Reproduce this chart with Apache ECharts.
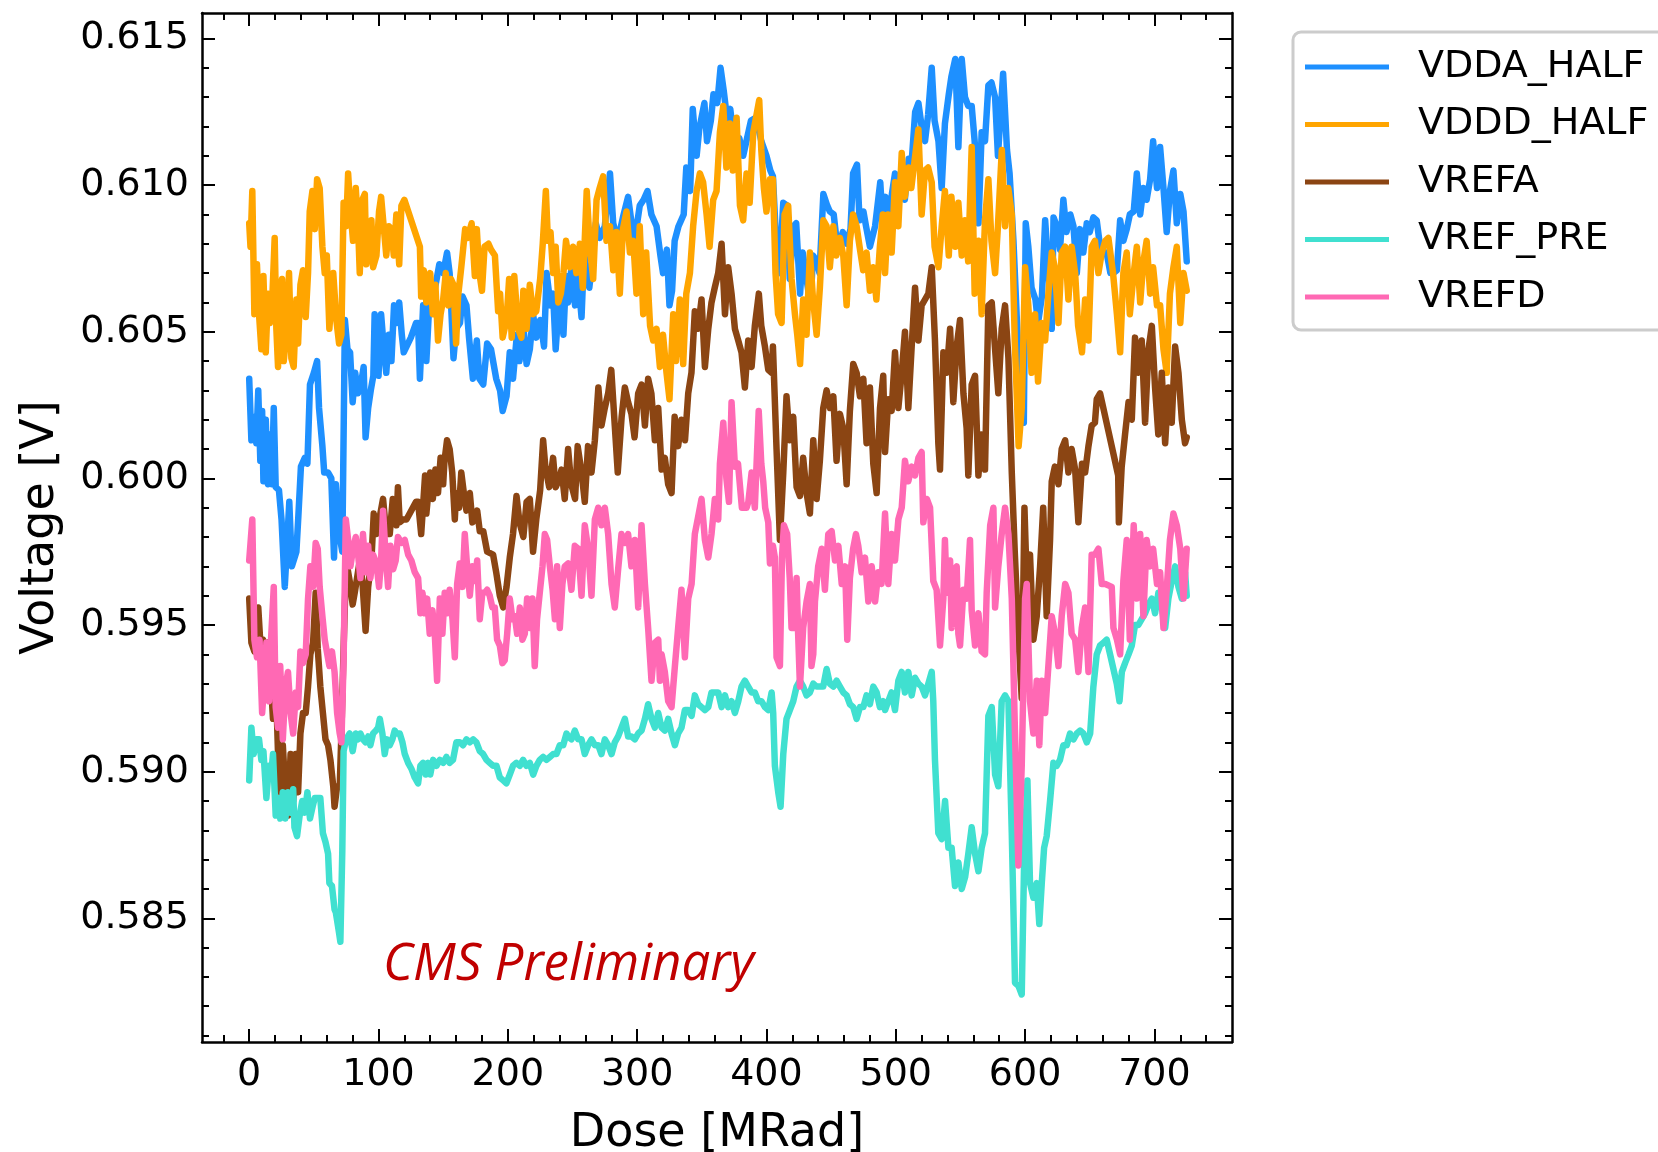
<!DOCTYPE html>
<html>
<head>
<meta charset="utf-8">
<script src="https://cdn.jsdelivr.net/npm/echarts@6/dist/echarts.min.js"></script>
<style>
html,body{margin:0;padding:0;background:#fff;}
#chart{width:1658px;height:1152px;}
</style>
</head>
<body>
<div id="chart"></div>
<script>
// ---- data (dose [MRad], voltage [V]) ----
const SERIES_NAMES = ['VDDA_HALF','VDDD_HALF','VREFA','VREF_PRE','VREFD'];
const SERIES_COLORS = ['#1E90FF','#FFA500','#8B4513','#40E0D0','#FF69B4'];

const VDDA_HALF = [[0,0.6034],[1.7,0.6013],[3,0.6021],[5.5,0.6012],[7,0.6030],[8.6,0.6006],[10,0.6023],[11,0.5999],[12.8,0.6020],[14.5,0.5998],[16,0.6015],[17.5,0.5998],[19,0.6024],[20.5,0.5997],[23,0.5996],[25,0.5986],[27.5,0.5963],[29,0.5975],[31,0.5992],[33,0.5970],[36.5,0.5975],[38,0.5987],[40,0.6004],[43,0.6007],[45,0.6005],[47,0.6032],[50,0.6036],[52.5,0.6040],[54,0.6024],[56.6,0.6011],[58,0.6002],[61,0.6002],[63.5,0.6000],[65.6,0.5973],[67,0.5998],[70,0.5980],[72,0.5975],[74,0.6054],[76,0.6044],[78,0.6043],[80,0.6026],[82,0.6036],[84,0.6029],[86,0.6031],[88.5,0.6038],[90,0.6014],[92,0.6024],[94,0.6030],[96,0.6035],[97,0.6056],[99,0.6047],[100,0.6035],[102,0.6056],[104,0.6045],[106,0.6036],[108,0.6049],[110,0.6040],[112,0.6059],[114,0.6053],[116,0.6060],[118,0.6049],[119.5,0.6043],[125,0.6048],[129,0.6053],[130.6,0.6053],[132,0.6034],[134.5,0.6059],[137,0.6040],[140,0.6066],[142,0.6061],[145,0.6068],[147,0.6073],[150,0.6070],[153,0.6077],[155,0.6070],[158,0.6041],[160,0.6051],[163,0.6053],[165,0.6062],[168,0.6059],[170,0.6048],[173,0.6034],[176,0.6047],[178,0.6034],[181,0.6032],[184,0.6046],[187,0.6044],[191,0.6034],[194,0.6030],[196,0.6023],[199,0.6028],[201.5,0.6043],[204,0.6034],[207,0.6049],[209,0.6040],[212,0.6052],[214.5,0.6039],[217,0.6044],[219.5,0.6056],[222,0.6048],[225,0.6054],[228,0.6045],[230,0.6070],[233,0.6059],[235,0.6063],[237,0.6044],[240,0.6063],[243,0.6049],[245,0.6069],[246.6,0.6060],[249,0.6071],[252,0.6059],[254,0.6070],[257,0.6055],[259,0.6077],[261,0.6070],[263,0.6065],[266,0.6077],[268,0.6087],[271,0.6082],[275,0.6086],[279,0.6104],[281.5,0.6087],[285,0.6081],[289,0.6089],[293,0.6096],[296,0.6086],[298,0.6081],[302,0.6093],[305,0.6095],[308,0.6098],[311,0.6090],[315,0.6086],[318,0.6076],[320,0.6070],[323,0.6078],[325,0.6059],[327,0.6064],[329,0.6081],[332,0.6086],[336,0.6090],[338,0.6106],[341,0.6098],[343,0.6126],[346,0.6110],[348,0.6119],[352,0.6128],[354,0.6115],[357,0.6122],[359,0.6131],[362,0.6128],[364.5,0.6140],[367,0.6132],[370,0.6121],[372,0.6126],[375,0.6115],[377,0.6112],[379,0.6116],[382,0.6110],[385,0.6116],[388,0.6122],[392,0.6123],[396,0.6115],[400,0.6110],[403,0.6105],[405,0.6103],[408,0.6076],[410,0.6070],[413,0.6094],[416,0.6093],[418,0.6068],[421,0.6086],[423,0.6087],[426,0.6063],[428,0.6077],[431,0.6068],[434,0.6059],[436,0.6076],[439,0.6074],[441,0.6070],[444,0.6097],[447,0.6093],[449,0.6091],[452,0.6090],[454,0.6082],[457,0.6081],[459,0.6084],[462,0.6080],[465,0.6085],[467,0.6104],[470,0.6107],[472,0.6088],[475,0.6091],[477,0.6086],[480,0.6079],[484,0.6086],[488,0.6101],[490,0.6086],[492,0.6096],[494,0.6081],[497,0.6097],[499.4,0.6104],[502,0.6093],[504.6,0.6106],[507,0.6095],[510,0.6109],[512,0.6106],[515,0.6125],[517.5,0.6128],[520,0.6120],[522.6,0.6115],[525,0.6124],[527.8,0.6140],[530,0.6122],[533,0.6115],[535.5,0.6099],[538,0.6121],[541,0.6131],[543,0.6137],[546,0.6143],[548.4,0.6113],[551,0.6143],[553.5,0.6130],[556,0.6127],[558.7,0.6127],[561,0.6115],[564,0.6087],[566.4,0.6118],[569,0.6115],[571.6,0.6134],[574,0.6135],[576.8,0.6130],[579,0.6110],[583,0.6138],[586,0.6112],[588,0.6104],[591,0.6081],[595,0.6040],[599,0.6019],[600.5,0.6087],[602.5,0.6079],[605,0.6065],[608,0.6061],[610,0.6053],[613,0.6062],[615.5,0.6088],[618,0.6072],[620.6,0.6051],[622,0.6089],[624.5,0.6086],[627,0.6078],[629.6,0.6095],[632,0.6084],[635,0.6090],[637.4,0.6086],[640,0.6070],[642.5,0.6085],[645,0.6077],[647.7,0.6087],[650,0.6084],[652.8,0.6089],[655.4,0.6088],[658,0.6079],[660.6,0.6077],[663,0.6077],[666,0.6070],[668.3,0.6070],[671,0.6071],[673.5,0.6088],[676,0.6081],[678.6,0.6085],[681,0.6090],[684,0.6091],[686.4,0.6104],[689,0.6090],[691.5,0.6099],[694,0.6095],[696.7,0.6102],[699,0.6115],[702,0.6099],[704.4,0.6113],[707,0.6099],[709.5,0.6084],[712,0.6098],[714.7,0.6105],[717.3,0.6087],[720,0.6097],[722.5,0.6091],[725,0.6074]];

const VDDD_HALF = [[0,0.6087],[1,0.6079],[2.4,0.6098],[4,0.6056],[6,0.6073],[7.6,0.6056],[9.4,0.6044],[11,0.6069],[12.8,0.6043],[14.6,0.6063],[16,0.6053],[18,0.6063],[19.7,0.6082],[21,0.6051],[22.3,0.6038],[23.6,0.6061],[25.4,0.6068],[26.7,0.6040],[28.7,0.6049],[30.8,0.6070],[32.6,0.6041],[34.4,0.6038],[36.5,0.6061],[37.8,0.6046],[39.6,0.6066],[41.6,0.6071],[43.7,0.6055],[45.5,0.6070],[46.8,0.6091],[48.9,0.6098],[50.7,0.6085],[52.5,0.6102],[54.5,0.6099],[56.6,0.6079],[58.4,0.6070],[60,0.6076],[62,0.6051],[65,0.6070],[67.4,0.6054],[69.5,0.6046],[71.3,0.6049],[73,0.6094],[75,0.6086],[76.5,0.6104],[78,0.6093],[80.3,0.6081],[82.4,0.6099],[84.2,0.6086],[85.5,0.6070],[87.5,0.6095],[89.4,0.6097],[90.6,0.6073],[92.7,0.6079],[94.5,0.6088],[95.8,0.6072],[98.4,0.6076],[100.4,0.6091],[102,0.6096],[104,0.6086],[106,0.6076],[108,0.6086],[110,0.6085],[111.8,0.6076],[113.8,0.6090],[116,0.6073],[117.7,0.6093],[120,0.6095],[132,0.6079],[133,0.6062],[135,0.6071],[137,0.6060],[140,0.6070],[142,0.6056],[144,0.6066],[146,0.6047],[148,0.6056],[150,0.6061],[152,0.6070],[154,0.6059],[156,0.6068],[158,0.6066],[160,0.6046],[161.5,0.6062],[164,0.6072],[167,0.6085],[169,0.6082],[172,0.6087],[174.5,0.6069],[176,0.6085],[178,0.6070],[180,0.6064],[182,0.6079],[185,0.6080],[187,0.6078],[190,0.6076],[192.5,0.6057],[194,0.6063],[196,0.6048],[199,0.6054],[201,0.6068],[203,0.6048],[205,0.6069],[208,0.6051],[210.5,0.6048],[212,0.6064],[214.5,0.6051],[217,0.6066],[219.5,0.6056],[222,0.6057],[225,0.6068],[227,0.6080],[229.4,0.6098],[231,0.6081],[233,0.6084],[235,0.6070],[237,0.6079],[239,0.6060],[241,0.6063],[243,0.6070],[245,0.6081],[248,0.6072],[250.5,0.6079],[253,0.6070],[255.7,0.6080],[258,0.6065],[261,0.6098],[263.4,0.6079],[266,0.6068],[268.6,0.6095],[271,0.6099],[273.7,0.6103],[276.3,0.6081],[279,0.6086],[281.5,0.6071],[284,0.6084],[286.6,0.6063],[289,0.6085],[291.8,0.6091],[294.4,0.6077],[297,0.6081],[299.5,0.6063],[302,0.6086],[304.7,0.6056],[307,0.6077],[310,0.6052],[312.4,0.6047],[315,0.6051],[317.6,0.6038],[320,0.6049],[322.7,0.6036],[325,0.6027],[327.9,0.6056],[330,0.6040],[333,0.6061],[335.6,0.6039],[338,0.6063],[340.8,0.6070],[343.3,0.6086],[346,0.6098],[348.5,0.6104],[351,0.6101],[353.7,0.6090],[356,0.6079],[358.8,0.6095],[361.4,0.6098],[364,0.6118],[366.6,0.6127],[369,0.6106],[371.7,0.6121],[374,0.6105],[376.9,0.6123],[379.5,0.6093],[382,0.6088],[384.6,0.6104],[387,0.6094],[389.8,0.6118],[392.3,0.6124],[394.4,0.6129],[396,0.6112],[398,0.6099],[400,0.6091],[402.7,0.6102],[405,0.6102],[407,0.6070],[409,0.6056],[411.7,0.6053],[414,0.6090],[416.8,0.6093],[419.4,0.6068],[422,0.6056],[423.8,0.6049],[426,0.6039],[428.4,0.6061],[431,0.6049],[433.6,0.6077],[436,0.6061],[438.8,0.6049],[441.3,0.6065],[444,0.6088],[446.5,0.6086],[449,0.6072],[451.7,0.6086],[454,0.6076],[456.8,0.6082],[459.4,0.6076],[462,0.6059],[464.5,0.6081],[467,0.6090],[469.7,0.6086],[472,0.6079],[474.8,0.6071],[477.4,0.6077],[480,0.6064],[482.6,0.6072],[485,0.6061],[487.7,0.6079],[490,0.6090],[491.7,0.6070],[494,0.6090],[496.8,0.6077],[499.4,0.6101],[502,0.6086],[504.6,0.6111],[507,0.6096],[510,0.6106],[512,0.6099],[515,0.6110],[517.5,0.6119],[520,0.6090],[522.6,0.6105],[525,0.6106],[527.8,0.6101],[530,0.6079],[533,0.6072],[535.5,0.6086],[538,0.6098],[541,0.6076],[543,0.6096],[546,0.6079],[548.4,0.6094],[551,0.6076],[553.5,0.6088],[556,0.6074],[558.7,0.6113],[561,0.6063],[564,0.6081],[566.4,0.6056],[569,0.6088],[571.6,0.6102],[574,0.6081],[576.8,0.6070],[579,0.6086],[582,0.6112],[584.5,0.6086],[587,0.6099],[589.7,0.6090],[592,0.6047],[595,0.6011],[597.4,0.6024],[600,0.6072],[602.5,0.6059],[605,0.6036],[607.7,0.6056],[610,0.6033],[612.9,0.6053],[615.5,0.6047],[618,0.6063],[620.6,0.6077],[623,0.6072],[625.8,0.6053],[628.3,0.6077],[631,0.6079],[633.5,0.6061],[636,0.6079],[638.7,0.6070],[641,0.6052],[644,0.6043],[646.4,0.6061],[649,0.6047],[651.5,0.6079],[654,0.6081],[656.7,0.6070],[659.3,0.6077],[662,0.6081],[664.4,0.6082],[668,0.6070],[671,0.6056],[673.5,0.6043],[676,0.6070],[678.6,0.6077],[681,0.6056],[684,0.6070],[686.4,0.6079],[689,0.6060],[691.5,0.6074],[694,0.6081],[696.7,0.6063],[699,0.6072],[702,0.6059],[704.4,0.6059],[707,0.6044],[709.5,0.6036],[712,0.6063],[714.7,0.6072],[717.3,0.6079],[720,0.6053],[722.5,0.6070],[725,0.6064]];

const VREFA = [[0,0.5959],[1.7,0.5944],[4,0.5941],[7,0.5956],[8.6,0.5944],[10.7,0.5945],[12.8,0.5936],[14.6,0.5944],[17,0.5929],[18.4,0.5918],[20.5,0.5932],[22.3,0.5906],[24,0.5893],[26,0.5909],[28,0.5893],[30,0.5885],[32,0.5906],[34,0.5890],[36,0.5906],[37.8,0.5893],[39.6,0.5913],[41.6,0.5920],[43.7,0.5920],[45.5,0.5929],[47.3,0.5940],[49.4,0.5944],[51.4,0.5961],[53,0.5942],[55,0.5929],[57,0.5920],[59,0.5911],[61,0.5909],[62.8,0.5904],[65,0.5895],[66,0.5888],[68,0.5895],[70,0.5895],[71.3,0.5913],[73,0.5942],[75,0.5972],[77.7,0.5965],[80,0.5957],[81.6,0.5961],[83.4,0.5966],[85.5,0.5972],[87.5,0.5965],[90,0.5948],[92,0.5963],[94.5,0.5972],[96.3,0.5988],[98.4,0.5981],[101,0.5987],[103.5,0.5993],[106,0.5981],[108.7,0.5981],[111,0.5993],[113.8,0.5984],[115,0.5997],[116.4,0.5985],[119,0.5986],[121.6,0.5986],[129,0.5992],[130.6,0.5992],[133,0.5981],[136,0.6001],[137,0.5988],[140,0.6002],[142,0.5993],[144,0.6003],[146,0.5995],[148,0.6007],[150,0.5998],[151,0.6006],[153,0.6013],[155,0.6010],[157,0.6002],[159,0.5986],[160,0.5995],[162.3,0.5990],[164,0.6002],[166,0.5995],[168,0.5989],[170.6,0.5995],[172.6,0.5985],[174.5,0.5986],[176.3,0.5989],[178.3,0.5982],[181,0.5982],[184,0.5975],[188.6,0.5974],[191,0.5968],[193.8,0.5960],[196.4,0.5956],[199,0.5963],[201.5,0.5973],[204,0.5981],[206.7,0.5994],[209,0.5985],[212,0.5980],[214.5,0.5992],[217,0.5993],[219.5,0.5975],[222,0.5986],[225,0.5996],[227.3,0.6013],[229,0.6004],[232,0.5997],[235,0.6007],[237,0.5997],[240,0.6000],[241.5,0.6003],[244,0.5993],[246.6,0.6010],[249,0.5998],[252,0.5993],[254,0.6011],[257,0.6002],[259.5,0.5992],[262,0.6011],[264.7,0.6002],[267.3,0.6013],[270,0.6031],[272.4,0.6018],[275,0.6024],[277.6,0.6029],[280,0.6037],[282.7,0.6018],[285,0.6002],[288,0.6021],[290.5,0.6031],[293,0.6026],[295.6,0.6022],[298,0.6014],[300.8,0.6029],[303.4,0.6032],[306,0.6018],[308.5,0.6034],[311,0.6029],[313.7,0.6013],[316.3,0.6024],[318.9,0.6003],[321.4,0.6007],[324,0.5998],[326.6,0.5995],[329,0.6021],[331.7,0.6011],[334.3,0.6020],[337,0.6013],[339.5,0.6029],[342,0.6036],[344.6,0.6057],[347,0.6051],[349.8,0.6061],[352.4,0.6038],[355,0.6051],[357.5,0.6060],[360,0.6065],[362.7,0.6070],[365.3,0.6080],[367.9,0.6056],[370.4,0.6072],[373,0.6063],[375.6,0.6051],[378.2,0.6047],[380.7,0.6043],[383.3,0.6031],[385.9,0.6047],[388.5,0.6038],[391,0.6052],[394.1,0.6063],[396,0.6052],[398.8,0.6045],[401.4,0.6037],[404,0.6036],[405,0.6045],[407.8,0.6010],[410.4,0.5979],[413,0.6002],[415.5,0.6028],[418,0.6013],[420.7,0.6021],[423.3,0.5997],[425.9,0.5994],[428.4,0.6007],[431,0.5995],[433.6,0.5988],[436.2,0.6013],[438.8,0.5993],[441.3,0.6006],[443.9,0.6024],[446.5,0.6030],[449,0.6024],[451.7,0.6028],[454.2,0.6006],[456.8,0.6022],[459.4,0.6017],[462,0.5998],[464.5,0.6023],[467.1,0.6039],[469.7,0.6036],[472.3,0.6028],[474.9,0.6034],[477.4,0.6012],[480,0.6031],[482.6,0.6005],[485.2,0.5995],[487.8,0.6024],[490.3,0.6035],[491.7,0.6009],[494.2,0.6027],[496.8,0.6023],[499.4,0.6043],[502,0.6024],[504.6,0.6036],[507.1,0.6050],[509.7,0.6024],[512.3,0.6045],[514.9,0.6065],[517.5,0.6047],[520,0.6059],[522.6,0.6061],[525.2,0.6063],[527.8,0.6072],[530.3,0.6047],[532.9,0.6012],[534.2,0.6003],[536.8,0.6043],[539.4,0.6036],[542,0.6051],[544.5,0.6026],[547.1,0.6045],[549.7,0.6054],[552.3,0.6029],[554.8,0.6017],[556.1,0.6001],[558.7,0.6032],[561.3,0.6035],[563.9,0.6001],[566.4,0.6015],[569,0.6003],[571.6,0.6059],[574.2,0.6060],[576.8,0.6044],[579.3,0.6029],[581.9,0.6051],[584.5,0.6059],[587.1,0.6041],[589.7,0.6002],[592,0.5975],[595,0.5945],[597.4,0.5925],[599.5,0.5990],[601.3,0.5964],[603.8,0.5974],[606.4,0.5945],[609,0.5953],[611.6,0.5970],[614,0.5990],[616.7,0.5953],[619.3,0.5979],[620.6,0.5999],[623,0.6004],[625.8,0.5998],[628.3,0.6010],[631,0.6013],[633.5,0.6002],[636,0.6010],[638.7,0.6003],[641.2,0.5985],[644,0.6005],[646.4,0.6002],[649,0.6011],[651.5,0.6018],[654,0.6019],[655.4,0.6027],[658,0.6029],[672,0.6001],[672.5,0.5985],[674.7,0.6004],[677.3,0.6015],[680,0.6026],[682.5,0.6020],[685,0.6048],[687.6,0.6036],[690.2,0.6047],[692.8,0.6019],[695.4,0.6044],[698,0.6052],[700.5,0.6031],[703,0.6015],[705.7,0.6036],[708.3,0.6012],[710.8,0.6031],[713.4,0.6019],[716,0.6045],[718.6,0.6036],[721.2,0.6020],[723.7,0.6012],[725,0.6014]];

const VREF_PRE = [[0,0.5897],[1.7,0.5915],[3.5,0.5906],[5.5,0.5911],[7.6,0.5911],[9.4,0.5904],[11,0.5907],[13.3,0.5891],[15.3,0.5902],[17,0.5899],[18.4,0.5906],[20.5,0.5885],[22.3,0.5891],[24,0.5884],[26,0.5893],[28,0.5884],[30,0.5893],[32,0.5886],[34,0.5894],[35,0.5881],[37,0.5878],[39,0.5885],[41,0.5890],[43,0.5886],[45,0.5893],[47,0.5884],[49,0.5888],[50.7,0.5891],[53,0.5891],[55,0.5891],[57,0.5879],[59,0.5876],[61,0.5872],[62,0.5862],[64,0.5861],[66,0.5853],[67,0.5852],[69.5,0.5845],[70.5,0.5842],[72,0.5873],[73,0.5907],[75,0.5911],[77.7,0.5913],[80,0.5907],[82.4,0.5913],[84,0.5911],[86,0.5913],[88,0.5911],[90,0.5910],[92,0.5912],[93.7,0.5909],[95.8,0.5913],[98,0.5914],[99.7,0.5915],[101,0.5918],[103,0.5913],[104.8,0.5906],[106.6,0.5911],[108.7,0.5909],[110.7,0.5911],[112.5,0.5914],[114,0.5913],[116.4,0.5913],[118.5,0.5910],[120.3,0.5906],[122.9,0.5903],[125.4,0.5901],[128,0.5898],[130.6,0.5896],[132.4,0.5902],[134.5,0.5903],[136.5,0.5899],[138.3,0.5903],[140,0.5899],[142.2,0.5904],[144.8,0.5902],[147.4,0.5904],[150,0.5903],[152.5,0.5905],[155,0.5903],[157.6,0.5904],[160.2,0.5910],[162.8,0.5910],[165.4,0.5909],[168,0.5911],[170.6,0.5910],[173.2,0.5911],[175.7,0.5910],[178.3,0.5907],[180.9,0.5906],[183.5,0.5904],[186,0.5903],[188.6,0.5902],[191.2,0.5902],[193.8,0.5898],[196.4,0.5897],[198.9,0.5896],[201.5,0.5899],[204,0.5902],[206.7,0.5903],[209.3,0.5902],[211.8,0.5904],[214.4,0.5902],[217,0.5903],[219.6,0.5899],[222.1,0.5902],[224.7,0.5904],[227.3,0.5905],[229.9,0.5904],[232.5,0.5905],[235,0.5906],[237.6,0.5906],[240.2,0.5909],[242.8,0.5909],[245.4,0.5913],[246.6,0.5912],[249.2,0.5911],[251.8,0.5914],[254.4,0.5911],[257,0.5911],[259.5,0.5906],[262.1,0.5909],[264.7,0.5911],[267.3,0.5909],[269.9,0.5909],[272.4,0.5906],[275,0.5911],[277.6,0.5909],[280.2,0.5906],[282.7,0.5910],[285.3,0.5912],[287.9,0.5915],[290.5,0.5918],[293,0.5912],[295.6,0.5912],[298.2,0.5911],[300.8,0.5913],[303.4,0.5914],[306,0.5918],[308.5,0.5923],[311.1,0.5918],[313.7,0.5915],[316.3,0.5920],[318.9,0.5915],[321.4,0.5914],[324,0.5918],[326.6,0.5913],[329.2,0.5909],[331.7,0.5913],[334.3,0.5915],[336.9,0.5921],[339.5,0.5921],[342.1,0.5919],[344.6,0.5926],[347.2,0.5923],[349.8,0.5922],[352.4,0.5921],[355,0.5922],[357.5,0.5927],[360.1,0.5927],[362.7,0.5927],[365.3,0.5922],[367.9,0.5926],[370.4,0.5922],[373,0.5924],[375.6,0.5920],[378.2,0.5924],[380.7,0.5929],[383.3,0.5931],[385.9,0.5929],[388.5,0.5927],[391,0.5927],[393.6,0.5924],[396.2,0.5924],[398.8,0.5922],[401.4,0.5921],[404,0.5927],[405.2,0.5920],[406.5,0.5902],[409.1,0.5893],[410.9,0.5888],[413,0.5906],[415.5,0.5918],[418.1,0.5921],[420.7,0.5924],[423.3,0.5929],[425.9,0.5931],[428.4,0.5929],[431,0.5926],[433.6,0.5927],[436.2,0.5930],[438.8,0.5929],[441.3,0.5929],[443.9,0.5929],[446.5,0.5935],[449,0.5930],[451.7,0.5929],[454.2,0.5931],[456.8,0.5929],[459.4,0.5927],[462,0.5926],[464.5,0.5923],[467.1,0.5922],[469.7,0.5918],[472.3,0.5922],[474.9,0.5922],[477.4,0.5926],[480,0.5923],[482.6,0.5929],[485.2,0.5927],[487.7,0.5922],[490.3,0.5924],[491.7,0.5921],[494.2,0.5924],[496.8,0.5927],[499.4,0.5921],[502,0.5931],[504.6,0.5934],[507.1,0.5927],[509.7,0.5934],[512.3,0.5926],[514.9,0.5932],[517.5,0.5930],[520,0.5929],[522.6,0.5926],[525.2,0.5930],[527.8,0.5934],[529,0.5924],[530.3,0.5904],[532.9,0.5879],[535.5,0.5877],[538.1,0.5890],[540.7,0.5874],[543.2,0.5874],[545.8,0.5861],[548.4,0.5869],[551,0.5860],[553.6,0.5864],[556.1,0.5872],[558.7,0.5881],[561.3,0.5872],[563.9,0.5866],[566.4,0.5874],[569,0.5879],[571.6,0.5919],[574.2,0.5922],[576.8,0.5899],[579.3,0.5895],[581.9,0.5924],[584.5,0.5926],[587.1,0.5924],[589.7,0.5879],[592.2,0.5828],[594.8,0.5827],[597.4,0.5824],[599.2,0.5868],[601.8,0.5897],[603.8,0.5862],[606.4,0.5857],[609,0.5862],[611,0.5848],[612.9,0.5862],[614.7,0.5874],[616.7,0.5878],[619.3,0.5890],[621.9,0.5903],[624.5,0.5902],[627,0.5904],[629.6,0.5909],[632.2,0.5909],[634.8,0.5913],[637.4,0.5911],[640,0.5913],[642.5,0.5914],[645.1,0.5913],[647.7,0.5910],[650.3,0.5913],[652.8,0.5929],[655.4,0.5940],[658,0.5943],[660.6,0.5944],[663.1,0.5945],[665.7,0.5940],[668.3,0.5935],[670.9,0.5930],[673,0.5924],[674.8,0.5934],[677.3,0.5937],[680,0.5940],[682.5,0.5943],[685,0.5950],[687.6,0.5950],[690.2,0.5952],[692.8,0.5954],[695.4,0.5957],[698,0.5959],[700.5,0.5954],[703.1,0.5961],[705.7,0.5956],[708.3,0.5949],[710.8,0.5959],[713.4,0.5965],[716,0.5970],[718.6,0.5963],[721.2,0.5959],[723.7,0.5968],[725,0.5960]];

const VREFD = [[0,0.5972],[2.4,0.5986],[4,0.5945],[6,0.5939],[8,0.5945],[10,0.5920],[12,0.5932],[13.3,0.5944],[15.3,0.5924],[17,0.5946],[19,0.5963],[20.5,0.5922],[22.3,0.5915],[24,0.5936],[26,0.5911],[28,0.5929],[30,0.5934],[32,0.5920],[34,0.5913],[36,0.5927],[37.8,0.5922],[39.6,0.5941],[41.6,0.5937],[43.7,0.5940],[45.5,0.5959],[47.3,0.5970],[49.4,0.5963],[51.4,0.5978],[53,0.5976],[54.5,0.5963],[56.6,0.5953],[58.4,0.5945],[60,0.5941],[62,0.5936],[64,0.5941],[66,0.5934],[68,0.5920],[70,0.5913],[71.3,0.5910],[73,0.5938],[74.7,0.5986],[76.5,0.5979],[78.3,0.5970],[80.3,0.5976],[82.4,0.5980],[84.2,0.5974],[86,0.5966],[88,0.5981],[90,0.5968],[92,0.5977],[93.7,0.5966],[95.8,0.5974],[98.4,0.5971],[100.4,0.5963],[102,0.5972],[103.5,0.5989],[105.6,0.5973],[107.4,0.5963],[109.2,0.5977],[111.3,0.5969],[113.3,0.5972],[115,0.5980],[117.7,0.5978],[120.3,0.5979],[122.9,0.5974],[125.4,0.5972],[128,0.5968],[130.6,0.5966],[132.4,0.5954],[134,0.5961],[135.8,0.5954],[137.6,0.5959],[139.6,0.5947],[141.7,0.5955],[143.5,0.5947],[145.3,0.5931],[147.4,0.5959],[149.4,0.5947],[151.2,0.5961],[153,0.5954],[155,0.5962],[157.2,0.5952],[159,0.5939],[160.8,0.5964],[162.8,0.5971],[164.9,0.5963],[166.7,0.5981],[168.5,0.5970],[170.6,0.5960],[172.6,0.5970],[174.5,0.5965],[176.3,0.5972],[178.3,0.5952],[180.3,0.5961],[182.1,0.5961],[184,0.5962],[186,0.5960],[188,0.5956],[189.9,0.5956],[191.7,0.5945],[193.8,0.5943],[195.8,0.5937],[197.6,0.5938],[199.5,0.5947],[201.5,0.5959],[203.6,0.5952],[205.4,0.5953],[207.2,0.5947],[209.3,0.5956],[211.3,0.5945],[213.1,0.5947],[214.9,0.5959],[217,0.5949],[219,0.5959],[220.8,0.5936],[222.6,0.5952],[224.7,0.5961],[226.8,0.5970],[228.6,0.5981],[230.4,0.5979],[232.5,0.5970],[234.6,0.5962],[236.4,0.5952],[238.1,0.5970],[240.2,0.5949],[242.2,0.5964],[244,0.5970],[246.6,0.5971],[249.2,0.5962],[251.8,0.5977],[254.4,0.5976],[257,0.5960],[259.5,0.5984],[262.1,0.5976],[264.7,0.5960],[267.3,0.5986],[269.9,0.5990],[272.4,0.5984],[275,0.5990],[277.6,0.5981],[280.2,0.5964],[282.7,0.5956],[285.3,0.5969],[287.9,0.5981],[290.5,0.5978],[293,0.5981],[295.6,0.5970],[298.2,0.5979],[300.8,0.5956],[303.4,0.5984],[306,0.5964],[308.5,0.5949],[311.1,0.5931],[313.7,0.5944],[316.3,0.5945],[317.6,0.5931],[318.9,0.5940],[321.4,0.5934],[324,0.5924],[326.6,0.5922],[329.2,0.5936],[331.7,0.5949],[334.3,0.5962],[336.9,0.5939],[339.5,0.5959],[342.1,0.5964],[344.6,0.5981],[347.2,0.5987],[349.8,0.5993],[352.4,0.5979],[355,0.5973],[357.5,0.5981],[360.1,0.5993],[362.7,0.5986],[364,0.6005],[366.6,0.6019],[369,0.6000],[371,0.5992],[373,0.6026],[375.6,0.6004],[378,0.6005],[381,0.5990],[384.6,0.5990],[386,0.5992],[388.5,0.6002],[391,0.5990],[394,0.6023],[396,0.6005],[397.5,0.5999],[399,0.5990],[401.4,0.5985],[402.7,0.5971],[405,0.5977],[406.5,0.5973],[407.8,0.5939],[410.4,0.5936],[412,0.5973],[413.5,0.5984],[416,0.5981],[418,0.5966],[419.4,0.5949],[421,0.5949],[423.3,0.5966],[424.5,0.5947],[425.9,0.5929],[428.4,0.5949],[431,0.5958],[433.6,0.5964],[434.8,0.5936],[436.2,0.5940],[437.5,0.5958],[440,0.5970],[442.7,0.5976],[445.2,0.5962],[447.8,0.5981],[450.4,0.5982],[453,0.5972],[455.6,0.5977],[458.2,0.5964],[460.8,0.5970],[462.5,0.5945],[464.5,0.5966],[467,0.5976],[469.2,0.5981],[471,0.5977],[473.6,0.5968],[476.2,0.5973],[478.8,0.5958],[481.4,0.5970],[484,0.5958],[486.5,0.5968],[489,0.5964],[491.7,0.5988],[494.2,0.5964],[496.8,0.5981],[499.4,0.5972],[502,0.5986],[504.6,0.5990],[507.1,0.6006],[509.7,0.5999],[512.3,0.6004],[514.9,0.6001],[517.5,0.6007],[520,0.6009],[521.3,0.5985],[524,0.5993],[526.5,0.5990],[529,0.5965],[531.6,0.5962],[534.2,0.5943],[536.8,0.5959],[538,0.5979],[539.4,0.5961],[542,0.5972],[543.2,0.5949],[544.5,0.5968],[547.1,0.5970],[548.4,0.5947],[549.7,0.5943],[552.3,0.5962],[554.8,0.5959],[557.4,0.5979],[558.7,0.5955],[561.3,0.5943],[563.9,0.5954],[566.4,0.5941],[569,0.5940],[570.3,0.5961],[573,0.5984],[575.5,0.5990],[576.8,0.5956],[579.3,0.5970],[581.9,0.5981],[584.5,0.5990],[587.1,0.5981],[589.7,0.5959],[592.2,0.5913],[594.8,0.5868],[597.4,0.5902],[600,0.5959],[601.3,0.5964],[603.8,0.5924],[606.4,0.5913],[609,0.5931],[611,0.5909],[612.9,0.5931],[615.5,0.5920],[618,0.5936],[620.6,0.5953],[623.2,0.5947],[625.8,0.5936],[628.3,0.5953],[631,0.5964],[633.5,0.5961],[636,0.5947],[638.7,0.5945],[641.2,0.5934],[643.8,0.5949],[646.4,0.5956],[649,0.5934],[651.5,0.5974],[654,0.5974],[656.7,0.5976],[659.3,0.5964],[662,0.5964],[667,0.5963],[668.3,0.5949],[671,0.5945],[673.5,0.5940],[676,0.5965],[678.6,0.5979],[681,0.5945],[684,0.5984],[686.4,0.5959],[689,0.5981],[691.5,0.5953],[694,0.5979],[696.7,0.5970],[699,0.5976],[702,0.5964],[704.4,0.5968],[707,0.5949],[709.5,0.5962],[712,0.5979],[714.7,0.5988],[717.3,0.5984],[720,0.5976],[722.5,0.5959],[725,0.5976]];

// ---- axis ticks ----
const X_MAJOR_TICKS = [0,100,200,300,400,500,600,700];
const X_MINOR_TICKS = [-20,20,40,60,80,120,140,160,180,220,240,260,280,320,340,360,380,420,440,460,480,520,540,560,580,620,640,660,680,720,740];
const Y_MAJOR_TICKS = [0.585,0.590,0.595,0.600,0.605,0.610,0.615];
const Y_MINOR_TICKS = [0.581,0.582,0.583,0.584,0.586,0.587,0.588,0.589,0.591,0.592,0.593,0.594,0.596,0.597,0.598,0.599,0.601,0.602,0.603,0.604,0.606,0.607,0.608,0.609,0.611,0.612,0.613,0.614];
const X_RANGE = [-36.5, 760];
const Y_RANGE = [0.58078, 0.61587];
const X_TITLE = 'Dose [MRad]';
const Y_TITLE = 'Voltage [V]';
const ANNOTATION = 'CMS Preliminary';

const SERIES_DATA = [VDDA_HALF, VDDD_HALF, VREFA, VREF_PRE, VREFD];

const FONT = 'DejaVu Sans';
const lineCol = '#000';

function xAxisDef(pos, ticks, len, showLine, showLabel) {
  return {
    type: 'value', position: pos, min: X_RANGE[0], max: X_RANGE[1],
    axisLine: {show: showLine, onZero: false, lineStyle: {color: lineCol, width: 2.5}},
    axisTick: {show: true, inside: true, length: len, customValues: ticks, lineStyle: {color: lineCol, width: 2}},
    axisLabel: showLabel ? {show: true, customValues: ticks, margin: 14, fontSize: 38, fontFamily: FONT, color: '#000'} : {show: false},
    splitLine: {show: false}
  };
}
function yAxisDef(pos, ticks, len, showLine, showLabel) {
  return {
    type: 'value', position: pos, min: Y_RANGE[0], max: Y_RANGE[1],
    axisLine: {show: showLine, onZero: false, lineStyle: {color: lineCol, width: 2.5}},
    axisTick: {show: true, inside: true, length: len, customValues: ticks, lineStyle: {color: lineCol, width: 2}},
    axisLabel: showLabel ? {show: true, customValues: ticks, margin: 13, fontSize: 38, fontFamily: FONT, color: '#000',
      formatter: v => v.toFixed(3)} : {show: false},
    splitLine: {show: false}
  };
}

const xAxes = [
  Object.assign(xAxisDef('bottom', X_MAJOR_TICKS, 13, true, true), {
    name: X_TITLE, nameLocation: 'middle', nameGap: 69,
    nameTextStyle: {fontSize: 46, fontFamily: FONT, color: '#000'}
  }),
  xAxisDef('bottom', X_MINOR_TICKS, 7, false, false),
  xAxisDef('top', X_MAJOR_TICKS, 13, true, false),
  xAxisDef('top', X_MINOR_TICKS, 7, false, false)
];
const yAxes = [
  Object.assign(yAxisDef('left', Y_MAJOR_TICKS, 13, true, true), {
    name: Y_TITLE, nameLocation: 'middle', nameGap: 138, nameRotate: 90,
    nameTextStyle: {fontSize: 46, fontFamily: FONT, color: '#000'}
  }),
  yAxisDef('left', Y_MINOR_TICKS, 7, false, false),
  yAxisDef('right', Y_MAJOR_TICKS, 13, true, false),
  yAxisDef('right', Y_MINOR_TICKS, 7, false, false)
];

const chart = echarts.init(document.getElementById('chart'), null, {renderer: 'canvas'});
chart.setOption({
  animation: false,
  backgroundColor: '#fff',
  grid: {left: 202, top: 13, width: 1030, height: 1029, containLabel: false, outerBoundsMode: 'none'},
  xAxis: xAxes,
  yAxis: yAxes,
  legend: {
    left: 1293, top: 32, orient: 'vertical',
    data: SERIES_NAMES,
    icon: 'rect', itemWidth: 84, itemHeight: 5, itemGap: 19.5,
    padding: [16, 80, 14, 12],
    backgroundColor: '#fff', borderColor: '#cccccc', borderWidth: 3, borderRadius: 8,
    textStyle: {fontSize: 38, fontFamily: FONT, color: '#000', lineHeight: 38, padding: [0, 0, 0, 24]}
  },
  graphic: [{
    type: 'text', left: 383, top: 940, silent: true,
    style: {text: ANNOTATION, fill: '#c00000', font: 'italic 51px "Open Sans"'}
  }],
  series: SERIES_NAMES.map((name, i) => ({
    name: name, type: 'line', xAxisIndex: 0, yAxisIndex: 0,
    data: SERIES_DATA[i], showSymbol: false, symbol: 'none', sampling: null,
    color: SERIES_COLORS[i],
    lineStyle: {color: SERIES_COLORS[i], width: 6.5, cap: 'round', join: 'round'},
    z: 2 + i
  }))
});
</script>
</body>
</html>
